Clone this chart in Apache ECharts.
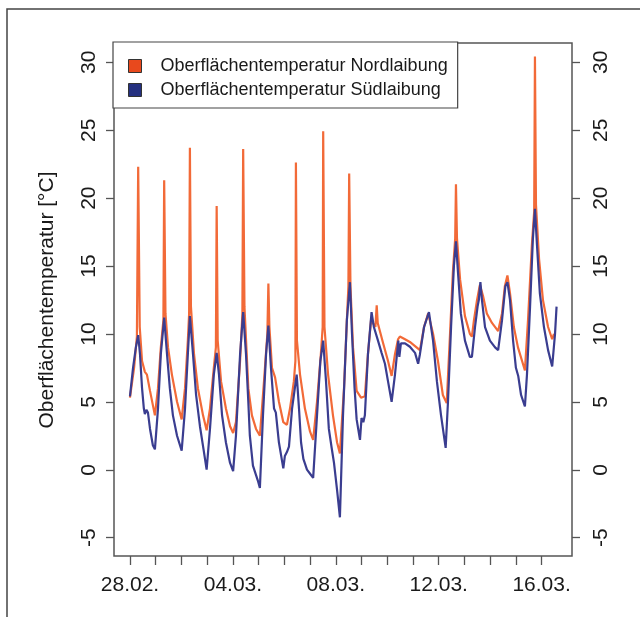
<!DOCTYPE html>
<html>
<head>
<meta charset="utf-8">
<script src="https://cdn.jsdelivr.net/npm/echarts@6/dist/echarts.min.js"></script>
<style>
  html, body { margin: 0; padding: 0; background: #fff; }
  #chart { width: 640px; height: 617px; }
</style>
</head>
<body>
<div id="chart"></div>
<script>
// Tage ab 28.02. (0 = 28.02.)
var nordDays = [0.00, 0.16, 0.27, 0.32, 0.38, 0.47, 0.58, 0.66, 0.78, 0.97,
  1.09, 1.20, 1.30, 1.33, 1.38, 1.48, 1.63, 1.83, 2.01,
  2.14, 2.25, 2.30, 2.33, 2.37, 2.49, 2.64, 2.84, 2.98,
  3.11, 3.26, 3.34, 3.37, 3.41, 3.54, 3.73, 3.89, 4.01,
  4.12, 4.28, 4.37, 4.40, 4.45, 4.60, 4.74, 4.90, 5.05,
  5.21, 5.34, 5.38, 5.42, 5.52, 5.64, 5.79, 5.96, 6.10,
  6.22, 6.37, 6.43, 6.45, 6.49, 6.61, 6.80, 7.00, 7.12,
  7.27, 7.42, 7.49, 7.51, 7.56, 7.70, 7.89, 8.05, 8.16,
  8.32, 8.43, 8.49, 8.52, 8.57, 8.67, 8.81, 8.98, 9.13,
  9.25, 9.37, 9.54, 9.59, 9.63, 9.84, 10.03, 10.17, 10.30, 10.42, 10.49,
  10.69, 10.88, 11.08, 11.27, 11.43, 11.59, 11.78, 11.97, 12.16, 12.31,
  12.44, 12.55, 12.64, 12.67, 12.71, 12.83, 13.02, 13.21, 13.29, 13.37,
  13.49, 13.60, 13.72, 13.87, 14.07, 14.31, 14.46, 14.57, 14.67, 14.77,
  14.92, 15.08, 15.24, 15.35, 15.47, 15.62, 15.71, 15.74, 15.78, 15.90,
  16.05, 16.25, 16.41, 16.48];
var nordTemp = [5.3, 7.5, 9.8, 22.3, 10.5, 8.0, 7.2, 7.0, 5.8, 4.0,
  6.0, 9.0, 11.0, 21.3, 11.5, 9.0, 7.0, 5.0, 3.7,
  6.0, 9.5, 11.5, 23.7, 12.0, 8.5, 6.0, 4.0, 2.9,
  4.5, 7.5, 9.0, 19.4, 9.5, 6.5, 4.5, 3.2, 2.7,
  3.5, 8.0, 11.5, 23.6, 12.0, 6.0, 4.0, 3.0, 2.5,
  6.5, 10.0, 13.7, 10.5, 7.5, 6.8, 5.0, 3.5, 3.3,
  4.5, 6.5, 8.0, 22.6, 9.5, 7.0, 4.5, 2.8, 2.2,
  5.0, 8.5, 10.5, 24.9, 10.5, 7.0, 4.0, 2.0, 1.2,
  6.0, 11.0, 13.5, 21.8, 13.5, 9.0, 5.8, 5.3, 5.4,
  8.5, 11.0, 10.5, 12.1, 10.8, 9.3, 8.0, 6.9, 8.5, 9.6, 9.8,
  9.6, 9.4, 9.1, 8.8, 10.5, 11.5, 10.0, 8.0, 5.5, 4.9,
  10.0, 14.5, 17.0, 21.0, 17.0, 14.0, 11.3, 10.0, 9.8, 11.0,
  12.5, 13.6, 12.8, 11.5, 10.8, 10.2, 11.5, 13.5, 14.3, 13.0,
  10.5, 9.0, 8.0, 7.3, 11.0, 16.5, 19.0, 30.4, 19.5, 15.5,
  12.5, 10.5, 9.6, 10.0];

var suedDays = [0.00, 0.12, 0.23, 0.32, 0.39, 0.47, 0.54, 0.58, 0.64, 0.70, 0.78, 0.89, 0.97,
  1.09, 1.20, 1.33, 1.44, 1.55, 1.67, 1.83, 2.01,
  2.14, 2.25, 2.33, 2.45, 2.57, 2.72, 2.86, 2.98,
  3.11, 3.26, 3.37, 3.46, 3.58, 3.73, 3.89, 4.01,
  4.12, 4.28, 4.40, 4.51, 4.60, 4.66, 4.78, 4.90, 4.97, 5.05,
  5.17, 5.29, 5.38, 5.48, 5.60, 5.67, 5.79, 5.96, 6.02, 6.10, 6.18,
  6.30, 6.48, 6.57, 6.65, 6.74, 6.88, 7.00, 7.12,
  7.27, 7.40, 7.51, 7.62, 7.73, 7.84, 7.93, 8.05, 8.16,
  8.28, 8.43, 8.55, 8.63, 8.73, 8.81, 8.94, 9.00, 9.07, 9.13,
  9.25, 9.39, 9.48, 9.64, 9.78, 9.91, 10.03, 10.17,
  10.30, 10.43, 10.47, 10.53, 10.69, 10.88, 11.08, 11.20, 11.27,
  11.43, 11.62, 11.78, 11.93, 12.09, 12.27,
  12.36, 12.48, 12.59, 12.67, 12.75, 12.86, 13.02, 13.21, 13.29,
  13.41, 13.51, 13.56, 13.62, 13.68, 13.80, 13.99, 14.19, 14.31,
  14.46, 14.59, 14.67, 14.77, 14.89, 15.00, 15.09, 15.20, 15.35,
  15.43, 15.55, 15.66, 15.74, 15.82, 15.93, 16.09, 16.25, 16.41, 16.52, 16.58];
var suedTemp = [5.4, 7.5, 9.0, 9.9, 8.5, 6.0, 4.5, 4.1, 4.4, 4.2, 3.0, 1.8, 1.5,
  4.5, 8.5, 11.2, 8.5, 6.0, 4.0, 2.5, 1.4,
  4.5, 8.5, 11.3, 8.5, 5.5, 3.2, 1.5, 0.0,
  3.0, 7.0, 8.6, 7.0, 4.0, 2.0, 0.5, -0.1,
  2.5, 8.5, 11.6, 8.5, 5.0, 2.5, 0.3, -0.4, -0.8, -1.35,
  4.0, 8.5, 10.6, 7.5, 4.5, 4.2, 2.0, 0.1, 1.0, 1.3, 1.7,
  4.5, 7.0, 4.5, 2.0, 0.8, 0.0, -0.3, -0.6,
  4.0, 8.0, 9.5, 6.5, 3.0, 1.6, 0.5, -1.5, -3.5,
  4.0, 11.0, 13.8, 10.0, 6.0, 3.7, 2.2, 3.8, 3.5, 4.0,
  8.5, 11.6, 10.5, 9.5, 8.6, 7.8, 6.5, 5.0,
  7.0, 9.5, 8.3, 9.3, 9.3, 9.05, 8.6, 7.8, 8.5,
  10.5, 11.6, 9.5, 6.5, 4.0, 1.6,
  5.0, 10.5, 15.0, 16.8, 14.5, 11.5, 9.5, 8.3, 8.3,
  10.5, 12.0, 12.5, 13.8, 12.5, 10.5, 9.5, 9.0, 8.8,
  11.0, 13.5, 13.8, 12.5, 9.5, 7.5, 6.9, 5.5, 4.65,
  7.0, 12.0, 17.0, 19.2, 16.5, 13.0, 10.5, 8.8, 7.6, 10.0, 12.0];

var labelDays = [0, 4, 8, 12, 16];
var dateLabels = ['28.02.', '04.03.', '08.03.', '12.03.', '16.03.'];

function pairs(xs, ys) {
  var res = [];
  for (var i = 0; i < xs.length; i++) {
    res.push([xs[i], ys[i]]);
  }
  return res;
}

var chart = echarts.init(document.getElementById('chart'));
var font = 'Liberation Sans, Arial, Helvetica, sans-serif';
var axisColor = '#555';
var textColor = '#1a1a1a';
var tickStyle = { color: axisColor, width: 1.3 };

// grid 0: Datenbereich mit Rahmen, grid 1: Achse der Tage, grid 2: Temperaturachsen
var hidden = {
  type: 'value', show: false, axisLine: { onZero: false }, splitLine: { show: false }
};

function tempAxis(pos, margin) {
  return {
    type: 'value', gridIndex: 2, position: pos,
    min: -5, max: 30, interval: 5,
    axisLine: { show: false, onZero: false },
    splitLine: { show: false },
    axisTick: { show: true, inside: false, length: 8, lineStyle: tickStyle },
    axisLabel: { rotate: 90, margin: margin, fontFamily: font, fontSize: 21, color: textColor }
  };
}

var yLeft = tempAxis('left', 14);
yLeft.name = 'Oberflächentemperatur [°C]';
yLeft.nameLocation = 'middle';
yLeft.nameGap = 56;
yLeft.nameTextStyle = { fontFamily: font, fontSize: 21, color: textColor };

var option = {
  backgroundColor: '#fff',
  animation: false,
  grid: [
    { left: 114, top: 43, right: 68, bottom: 61, show: true,
      borderColor: axisColor, borderWidth: 1.5, backgroundColor: 'transparent' },
    { left: 130, top: 43, right: 98.4, bottom: 61 },
    { left: 114, top: 62.3, right: 68, bottom: 79.3 }
  ],
  legend: {
    left: 113, top: 42,
    orient: 'vertical',
    padding: [15, 10, 9, 15],
    itemGap: 6,
    itemWidth: 13, itemHeight: 13,
    icon: 'rect',
    borderColor: '#444', borderWidth: 1.2,
    backgroundColor: '#fff',
    itemStyle: { borderColor: '#333', borderWidth: 1 },
    textStyle: { fontFamily: font, fontSize: 18, color: textColor, padding: [0, 0, 0, 14] },
    data: [
      { name: 'Oberflächentemperatur Nordlaibung', itemStyle: { color: '#E8491D' } },
      { name: 'Oberflächentemperatur Südlaibung', itemStyle: { color: '#25307F' } }
    ]
  },
  xAxis: [
    Object.assign({}, hidden, { gridIndex: 0, min: -0.62, max: 17.18 }),
    {
      type: 'value', gridIndex: 1, min: 0, max: 16, interval: 1,
      axisLine: { show: false, onZero: false },
      splitLine: { show: false },
      axisTick: { show: true, inside: false, length: 9, lineStyle: tickStyle },
      axisLabel: {
        interval: 0, margin: 19, fontFamily: font, fontSize: 21, color: textColor,
        formatter: function (v) {
          var i = labelDays.indexOf(Math.round(v));
          return i >= 0 ? dateLabels[i] : '';
        }
      }
    },
    Object.assign({}, hidden, { gridIndex: 2, min: 0, max: 1 })
  ],
  yAxis: [
    Object.assign({}, hidden, { gridIndex: 0, min: -6.35, max: 31.4 }),
    Object.assign({}, hidden, { gridIndex: 1, min: 0, max: 1 }),
    yLeft,
    tempAxis('right', 19)
  ],
  graphic: [{
    type: 'polyline',
    silent: true,
    shape: { points: [[7, 617], [7, 9], [640, 9]] },
    style: { stroke: '#444', lineWidth: 1.5, fill: null }
  }],
  series: [
    {
      name: 'Oberflächentemperatur Nordlaibung',
      type: 'line',
      xAxisIndex: 0, yAxisIndex: 0,
      showSymbol: false,
      color: '#F26A38',
      lineStyle: { width: 2.2, color: '#F26A38' },
      data: pairs(nordDays, nordTemp)
    },
    {
      name: 'Oberflächentemperatur Südlaibung',
      type: 'line',
      xAxisIndex: 0, yAxisIndex: 0,
      showSymbol: false,
      color: '#3A3D90',
      lineStyle: { width: 2.2, color: '#3A3D90' },
      data: pairs(suedDays, suedTemp)
    }
  ]
};
chart.setOption(option);
</script>
</body>
</html>
